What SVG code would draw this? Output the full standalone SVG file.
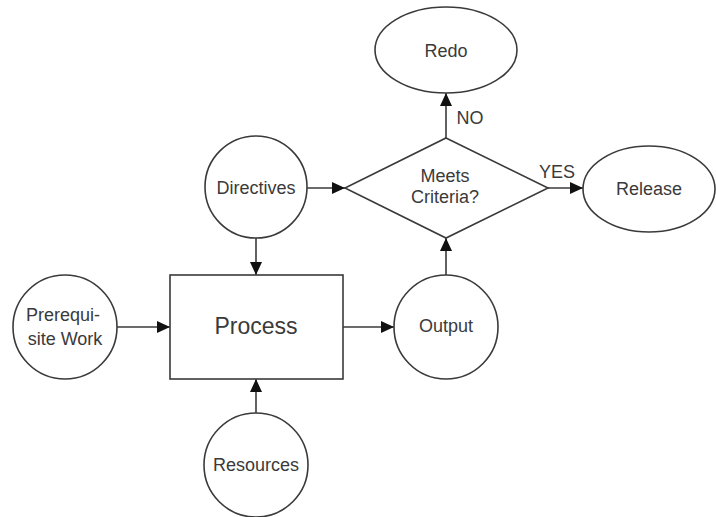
<svg xmlns="http://www.w3.org/2000/svg" width="716" height="517" viewBox="0 0 716 517">
  <style>
    .shape { fill: #ffffff; stroke: #3a3a3a; stroke-width: 1.6; }
    .edge { fill: none; stroke: #3a3a3a; stroke-width: 1.6; }
    .lbl { font-family: "Liberation Sans", Arial, sans-serif; font-size: 18px; fill: #3a3a3a; text-anchor: middle; }
    .big { font-size: 23px; }
  </style>
  <defs>
    <marker id="arrow" markerUnits="userSpaceOnUse" markerWidth="14" markerHeight="12" refX="13" refY="6" orient="auto">
      <path d="M0,0 L13,6 L0,12 Z" fill="#111111"/>
    </marker>
  </defs>
  <rect width="716" height="517" fill="#ffffff"/>

  <g id="connectors">
    <line class="edge" x1="307" y1="188" x2="345" y2="188" marker-end="url(#arrow)"/>
    <line class="edge" x1="256" y1="238" x2="256" y2="275" marker-end="url(#arrow)"/>
    <line class="edge" x1="117" y1="327" x2="170" y2="327" marker-end="url(#arrow)"/>
    <line class="edge" x1="343" y1="327" x2="394" y2="327" marker-end="url(#arrow)"/>
    <line class="edge" x1="256" y1="413" x2="256" y2="379" marker-end="url(#arrow)"/>
    <line class="edge" x1="446" y1="275" x2="446" y2="238" marker-end="url(#arrow)"/>
    <line class="edge" x1="446" y1="138" x2="446" y2="93" marker-end="url(#arrow)"/>
    <line class="edge" x1="548" y1="188" x2="583" y2="188" marker-end="url(#arrow)"/>
    <text class="lbl" x="470" y="124">NO</text>
    <text class="lbl" x="557" y="178">YES</text>
  </g>

  <g id="redo">
    <ellipse class="shape" cx="446" cy="50" rx="71" ry="43"/>
    <text class="lbl" x="446" y="57">Redo</text>
  </g>

  <g id="decision">
    <polygon class="shape" points="446,138 548,188 446,238 345,188"/>
    <text class="lbl" x="445" y="182">Meets</text>
    <text class="lbl" x="445" y="203">Criteria?</text>
  </g>

  <g id="release">
    <ellipse class="shape" cx="649" cy="189" rx="66" ry="43"/>
    <text class="lbl" x="649" y="195">Release</text>
  </g>

  <g id="directives">
    <circle class="shape" cx="256" cy="187" r="51"/>
    <text class="lbl" x="256" y="194">Directives</text>
  </g>

  <g id="prerequisite">
    <circle class="shape" cx="65" cy="327" r="52"/>
    <text class="lbl" x="63" y="321">Prerequi-</text>
    <text class="lbl" x="65" y="345">site Work</text>
  </g>

  <g id="process">
    <rect class="shape" x="170" y="275" width="173" height="104"/>
    <text class="lbl big" x="256" y="334">Process</text>
  </g>

  <g id="output">
    <circle class="shape" cx="446" cy="327" r="52"/>
    <text class="lbl" x="446" y="332">Output</text>
  </g>

  <g id="resources">
    <circle class="shape" cx="256" cy="465" r="52"/>
    <text class="lbl" x="256" y="471">Resources</text>
  </g>
</svg>
